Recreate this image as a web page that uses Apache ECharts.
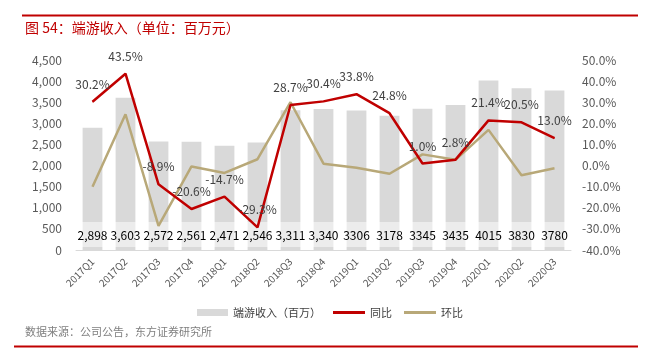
<!DOCTYPE html>
<html><head><meta charset="utf-8">
<script src="https://cdn.jsdelivr.net/npm/echarts@6/dist/echarts.min.js"></script>
<style>html,body{margin:0;padding:0;background:#fff}#c{width:645px;height:353px}</style>
</head><body><div id="c"></div>
<script>
var categories = ['2017Q1','2017Q2','2017Q3','2017Q4','2018Q1','2018Q2','2018Q3','2018Q4','2019Q1','2019Q2','2019Q3','2019Q4','2020Q1','2020Q2','2020Q3'];
var revenue = [2898,3603,2572,2561,2471,2546,3311,3340,3306,3178,3345,3435,4015,3830,3780];
var revenueLabels = ['2,898','3,603','2,572','2,561','2,471','2,546','3,311','3,340','3306','3178','3345','3435','4015','3830','3780'];
var yoy = [30.2,43.5,-8.9,-20.6,-14.7,-29.3,28.7,30.4,33.8,24.8,1.0,2.8,21.4,20.5,13.0];
var qoq = [-10.0,24.3,-28.6,-0.4,-3.5,3.0,30.0,0.9,-1.0,-3.9,5.3,2.7,16.9,-4.6,-1.3];
var leftTicks = {min:0, max:4500, interval:500};
var rightTicks = {min:-40, max:50, interval:10};

var FONT = '"Microsoft YaHei","Noto Sans CJK SC",Arial,sans-serif';
var legendText = {fontSize:11, color:'#404040', fontFamily:FONT};
var chart = echarts.init(document.getElementById('c'), null, {renderer:'canvas'});
chart.setOption({
  animation:false,
  textStyle:{fontFamily:FONT},
  grid:{left:76, right:74, top:60, bottom:103},
  legend:[
    {left:197, top:307, padding:0, itemWidth:31, itemHeight:7, textStyle:legendText, data:[{name:'端游收入（百万）', icon:'rect'}]},
    {left:333, top:307, padding:0, itemWidth:32, itemHeight:3, textStyle:legendText, data:[{name:'同比', icon:'rect'}]},
    {left:404, top:307, padding:0, itemWidth:32, itemHeight:3, textStyle:legendText, data:[{name:'环比', icon:'rect'}]}
  ],
  xAxis:{
    type:'category', data:categories,
    axisLine:{lineStyle:{color:'#d9d9d9'}},
    axisTick:{show:false},
    axisLabel:{rotate:45, fontSize:10, color:'#595959', margin:10, fontFamily:FONT}
  },
  yAxis:[{
    type:'value', min:leftTicks.min, max:leftTicks.max, interval:leftTicks.interval,
    splitLine:{show:false}, axisLine:{show:false}, axisTick:{show:false},
    axisLabel:{fontSize:12, color:'#595959', margin:14, fontFamily:FONT,
      formatter:function(v){return v.toLocaleString('en-US');}}
  },{
    type:'value', min:rightTicks.min, max:rightTicks.max, interval:rightTicks.interval,
    splitLine:{show:false}, axisLine:{show:false}, axisTick:{show:false},
    axisLabel:{fontSize:12, color:'#595959', margin:11, fontFamily:FONT,
      formatter:function(v){return v.toFixed(1)+'%';}}
  }],
  series:[{
    name:'端游收入（百万）', type:'bar', data:revenue, barWidth:'60%',
    itemStyle:{color:'#d9d9d9'},
    label:{show:true, position:'insideBottom', distance:3, fontSize:12, color:'#000',
      backgroundColor:'rgba(255,255,255,0.5)', padding:[7,0,6,0], fontFamily:FONT,
      formatter:function(p){return revenueLabels[p.dataIndex];}},
    z:1
  },{
    name:'同比', type:'line', yAxisIndex:1, symbol:'circle', symbolSize:1, showSymbol:true,
    data:yoy.map(function(v,i){
      var d={value:v};
      if(i===4){d.label={offset:[0,-16]};}
      return d;
    }),
    lineStyle:{color:'#c00000', width:2.5}, itemStyle:{color:'#c00000'},
    label:{show:true, position:'top', distance:11, fontSize:12, color:'#404040', fontFamily:FONT,
      formatter:function(p){return p.value.toFixed(1)+'%';}},
    labelLayout:{hideOverlap:false},
    z:3
  },{
    name:'环比', type:'line', yAxisIndex:1, symbol:'none', data:qoq,
    lineStyle:{color:'#b8a878', width:2.5}, itemStyle:{color:'#b8a878'},
    z:2
  }],
  graphic:[
    {type:'rect', shape:{x:22, y:14.5, width:616, height:2}, style:{fill:'#c00000'}},
    {type:'text', left:25, top:21, style:{text:'图 54：端游收入（单位：百万元）', fill:'#c00000', font:'14px '+FONT}},
    {type:'text', left:25, top:326, style:{text:'数据来源：公司公告，东方证券研究所', fill:'#7f7f7f', font:'11px '+FONT}},
    {type:'rect', shape:{x:14, y:345.5, width:624, height:2}, style:{fill:'#c00000'}}
  ]
});
</script></body></html>
